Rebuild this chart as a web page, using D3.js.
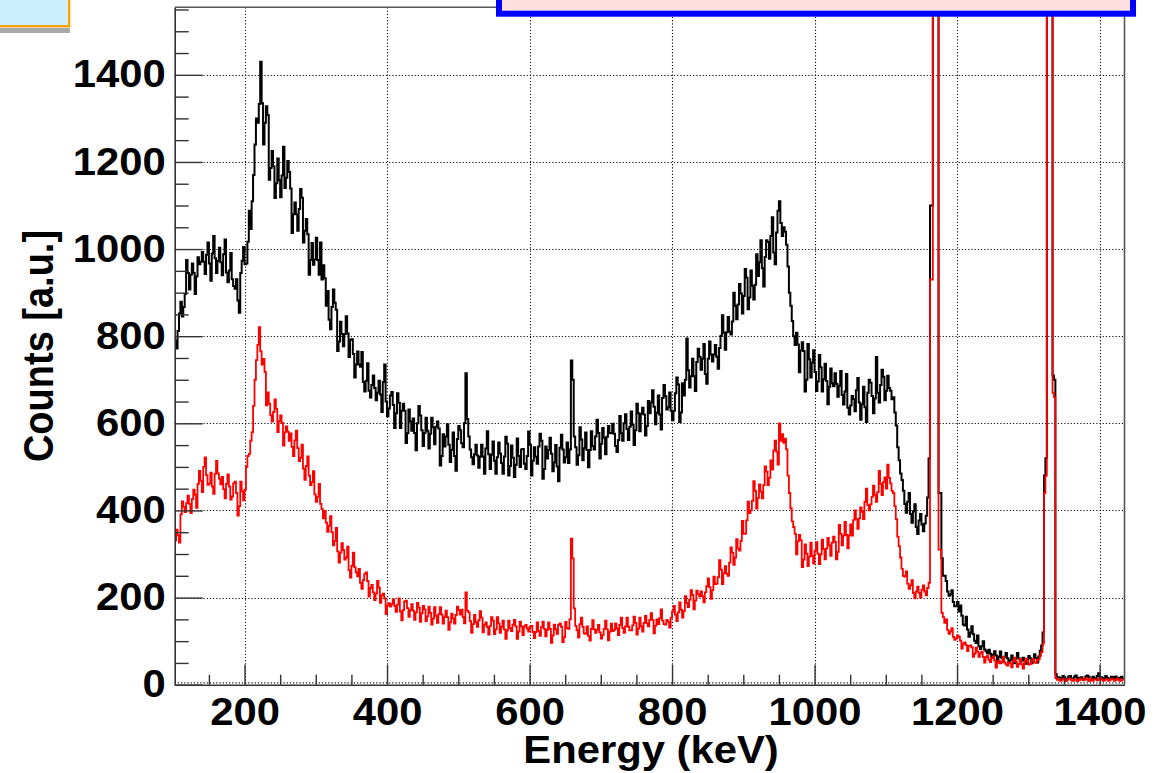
<!DOCTYPE html>
<html><head><meta charset="utf-8">
<script src="https://cdn.jsdelivr.net/npm/d3@7"></script>
<style>html,body{margin:0;padding:0;background:#fff;} svg{display:block;}</style>
</head><body>
<svg id="chart" width="1162" height="773"></svg>
<script>
// ---- data (histograms, 2 keV bins starting at 102 keV) ----
const binStart = 102;
const binWidth = 2;
const xDomain = [102, 1435];
const yDomain = [0, 1555];
const xTickValues = [200, 400, 600, 800, 1000, 1200, 1400];
const yTickValues = [0, 200, 400, 600, 800, 1000, 1200, 1400];
const xTitle = "Energy (keV)";
const yTitle = "Counts [a.u.]";

const blackCounts = [
  790, 772, 812, 852, 879, 845, 867, 897, 975, 945, 907, 941, 967, 945, 897, 937, 981, 965, 971, 993, 971, 943, 987, 1015, 967, 927, 990, 1030, 979, 945, 973, 1003, 970, 940, 988, 1022, 946, 924, 951, 991, 931, 915, 909, 931, 882, 854, 945, 973, 1005, 965,
  967, 1017, 1088, 1046, 1110, 1170, 1240, 1300, 1290, 1333, 1430, 1335, 1240, 1290, 1328, 1308, 1159, 1186, 1225, 1190, 1117, 1151, 1208, 1158, 1119, 1169, 1235, 1140, 1164, 1202, 1177, 1139, 1037, 1080, 1107, 1080, 1042, 1092, 1138, 1118, 1015, 1042, 1069, 1034, 941, 975, 1014, 964, 976, 1026,
  975, 941, 1015, 930, 963, 933, 870, 904, 838, 816, 867, 907, 877, 861, 766, 788, 833, 805, 777, 805, 846, 806, 752, 792, 793, 759, 705, 735, 765, 735, 730, 764, 695, 673, 698, 738, 675, 659, 688, 710, 681, 653, 670, 698, 666, 626, 695, 735, 650, 616,
  634, 664, 672, 642, 589, 623, 669, 647, 589, 629, 645, 629, 555, 577, 632, 604, 583, 611, 578, 538, 600, 640, 618, 584, 548, 578, 613, 583, 542, 576, 613, 591, 552, 592, 604, 588, 503, 525, 575, 547, 570, 598, 551, 511, 539, 579, 525, 491, 564, 594,
  584, 554, 545, 600, 715, 610, 570, 540, 522, 506, 529, 551, 526, 498, 523, 551, 524, 484, 542, 582, 529, 495, 528, 558, 514, 484, 522, 556, 531, 509, 484, 524, 569, 553, 480, 502, 549, 521, 477, 505, 565, 525, 500, 540, 541, 507, 495, 525, 581, 551,
  480, 514, 545, 523, 507, 547, 576, 560, 473, 495, 547, 519, 539, 567, 530, 490, 510, 550, 501, 467, 544, 574, 540, 510, 522, 556, 509, 540, 744, 700, 570, 545, 505, 527, 591, 563, 515, 543, 579, 539, 499, 539, 582, 548, 540, 570, 608, 578, 519, 553,
  589, 567, 529, 569, 594, 578, 577, 599, 576, 548, 534, 562, 617, 577, 560, 600, 621, 587, 562, 592, 627, 597, 550, 584, 645, 623, 582, 622, 636, 620, 572, 594, 651, 623, 648, 676, 638, 598, 624, 664, 620, 586, 658, 688, 662, 632, 637, 671, 629, 607,
  629, 669, 705, 689, 603, 625, 692, 664, 700, 795, 722, 682, 708, 748, 708, 674, 741, 771, 753, 723, 748, 782, 713, 691, 748, 788, 758, 742, 758, 780, 753, 725, 773, 801, 848, 808, 769, 809, 844, 810, 804, 834, 900, 870, 839, 873, 920, 898, 852, 892,
  954, 934, 862, 889, 951, 916, 884, 918, 988, 938, 970, 1020, 956, 914, 982, 1020, 1016, 978, 1030, 1073, 992, 965, 1038, 1088, 1110, 1060, 1030, 1050, 1040, 1010, 960, 900, 870, 835, 800, 780, 808, 781, 717, 767, 786, 766, 673, 700, 782, 747, 705, 739, 768, 718,
  674, 696, 757, 729, 673, 701, 737, 697, 644, 684, 726, 692, 685, 715, 691, 661, 686, 720, 665, 643, 673, 713, 636, 620, 641, 663, 656, 628, 676, 704, 648, 608, 644, 684, 637, 603, 670, 700, 693, 663, 623, 657, 752, 670, 648, 688, 723, 707, 653, 675,
  709, 681, 675, 655, 660, 625, 595, 545, 515, 485, 470, 445, 415, 395, 420, 440, 392, 372, 398, 414, 362, 346, 377, 392, 368, 352, 370, 388, 430, 520, 1100, 1100, 3100, 3100, 3100, 3100, 440, 440, 290, 250, 250, 238, 214, 204, 207, 217, 190, 180, 180, 190,
  168, 182, 158, 138, 136, 156, 127, 110, 119, 134, 116, 101, 96, 113, 88, 82, 88, 100, 81, 77, 73, 80, 71, 62, 69, 77, 67, 55, 64, 76, 62, 52, 64, 73, 61, 52, 56, 67, 55, 49, 61, 73, 60, 56, 55, 62, 57, 48, 58, 66,
  61, 49, 58, 70, 61, 51, 65, 78, 90, 120, 480, 520, 3100, 3100, 3100, 3100, 710, 700, 24, 17, 17, 13, 15, 20, 17, 11, 13, 19, 20, 14, 14, 18, 21, 16, 11, 16, 17, 13, 13, 19, 21, 18, 10, 13, 18, 14, 15, 20, 26, 17,
  17, 13, 14, 20, 16, 12, 14, 18, 17, 13, 19, 15, 12, 16, 18, 14
];

const redCounts = [
  331, 356, 343, 326, 391, 421, 408, 396, 417, 434, 415, 394, 426, 448, 436, 406, 461, 491, 468, 442, 500, 522, 481, 459, 462, 487, 455, 438, 484, 514, 485, 473, 460, 477, 449, 428, 461, 483, 455, 425, 432, 462, 466, 440, 388, 410, 466, 444, 423, 448,
  500, 525, 530, 560, 580, 640, 700, 745, 780, 821, 765, 735, 748, 718, 641, 671, 645, 619, 604, 626, 655, 633, 580, 605, 618, 601, 549, 579, 593, 581, 560, 577, 546, 525, 561, 583, 543, 513, 521, 551, 496, 470, 502, 524, 480, 458, 465, 490, 437, 420,
  431, 461, 415, 403, 382, 399, 372, 351, 365, 387, 350, 320, 330, 360, 306, 280, 303, 325, 309, 287, 292, 317, 263, 246, 273, 303, 270, 258, 249, 266, 234, 220, 240, 254, 258, 238, 202, 222, 229, 212, 194, 209, 238, 223, 188, 205, 209, 198, 162, 182,
  187, 179, 185, 196, 181, 167, 184, 198, 168, 148, 171, 191, 193, 176, 156, 171, 185, 170, 149, 166, 188, 177, 144, 164, 181, 173, 146, 157, 179, 165, 138, 152, 178, 158, 142, 162, 178, 161, 140, 155, 170, 155, 126, 143, 163, 152, 140, 160, 179, 171,
  161, 172, 155, 141, 212, 170, 166, 146, 119, 139, 160, 143, 133, 148, 169, 154, 120, 137, 143, 132, 115, 135, 155, 147, 116, 127, 155, 141, 119, 133, 147, 127, 105, 125, 147, 130, 123, 138, 149, 134, 105, 122, 145, 134, 114, 134, 137, 129, 122, 133,
  135, 121, 107, 121, 143, 123, 112, 132, 145, 128, 111, 126, 143, 128, 96, 113, 138, 127, 117, 137, 141, 133, 98, 109, 144, 130, 128, 150, 335, 290, 175, 135, 125, 108, 139, 154, 133, 118, 117, 134, 112, 101, 128, 148, 127, 119, 126, 137, 120, 106,
  114, 128, 147, 127, 102, 122, 140, 123, 126, 141, 129, 114, 137, 154, 130, 119, 134, 154, 133, 125, 125, 136, 156, 142, 115, 129, 154, 134, 122, 142, 158, 141, 134, 149, 164, 149, 118, 135, 150, 139, 153, 173, 147, 139, 138, 149, 145, 131, 154, 168,
  181, 161, 146, 166, 189, 172, 154, 169, 203, 188, 178, 195, 217, 206, 173, 193, 216, 208, 203, 214, 203, 189, 212, 226, 244, 224, 197, 217, 248, 231, 232, 247, 286, 264, 231, 256, 272, 255, 250, 280, 315, 303, 275, 292, 334, 313, 308, 330, 376, 346,
  347, 377, 420, 394, 400, 422, 467, 445, 404, 429, 460, 443, 428, 458, 501, 489, 458, 475, 515, 494, 538, 560, 535, 505, 600, 560, 575, 555, 565, 540, 480, 440, 405, 375, 362, 346, 299, 329, 344, 332, 270, 287, 322, 301, 272, 294, 326, 296, 278, 308,
  327, 301, 277, 299, 333, 311, 288, 313, 337, 320, 296, 326, 340, 328, 288, 305, 367, 346, 320, 342, 374, 344, 313, 343, 368, 342, 378, 400, 380, 358, 382, 407, 397, 380, 420, 450, 412, 400, 414, 431, 457, 436, 420, 442, 491, 461, 435, 465, 476, 450,
  505, 475, 462, 445, 440, 410, 380, 340, 318, 292, 266, 250, 248, 260, 232, 220, 228, 240, 210, 198, 214, 225, 211, 200, 218, 228, 214, 205, 222, 234, 930, 930, 3300, 3300, 3300, 3300, 310, 310, 165, 155, 142, 150, 126, 117, 122, 130, 110, 103, 106, 113,
  110, 101, 83, 94, 97, 91, 77, 89, 90, 86, 64, 71, 85, 76, 64, 72, 76, 64, 51, 63, 67, 57, 52, 61, 65, 56, 39, 50, 55, 49, 52, 64, 51, 47, 44, 51, 49, 40, 54, 62, 53, 41, 48, 60, 47, 37, 51, 60, 55, 46,
  48, 56, 59, 51, 50, 57, 58, 66, 75, 95, 440, 480, 3400, 3400, 3400, 3400, 670, 660, 15, 11, 13, 9, 10, 14, 12, 8, 11, 14, 14, 10, 9, 12, 11, 8, 10, 14, 13, 10, 11, 15, 12, 8, 14, 11, 9, 12, 13, 10, 12, 15,
  13, 9, 10, 13, 12, 9, 11, 14, 13, 9, 11, 14, 12, 9, 10, 13
];

// ---- layout ----
const plot = {left: 174.7, right: 1124.5, top: 7.3, bottom: 684.7};
const FONT = "'Liberation Sans', Arial, Helvetica, sans-serif";
const svg = d3.select("#chart");
svg.append("rect").attr("width", 1162).attr("height", 773).attr("fill", "#fff");

const x = d3.scaleLinear().domain(xDomain).range([plot.left, plot.right]);
const y = d3.scaleLinear().domain(yDomain).range([plot.bottom, plot.top]);

svg.append("defs").append("clipPath").attr("id", "plotclip")
  .append("rect").attr("x", plot.left).attr("y", plot.top)
  .attr("width", plot.right - plot.left).attr("height", plot.bottom - plot.top);

// grid
const grid = svg.append("g").attr("stroke", "#111").attr("stroke-width", 1.1)
  .attr("stroke-dasharray", "1.2,2").attr("fill", "none");
xTickValues.forEach(v => grid.append("line")
  .attr("x1", Math.round(x(v)) + 0.5).attr("x2", Math.round(x(v)) + 0.5)
  .attr("y1", plot.top).attr("y2", plot.bottom));
yTickValues.forEach(v => {
  const yy = v === 0 ? y(v) - 1.8 : Math.round(y(v)) + 0.5;
  grid.append("line").attr("x1", plot.left).attr("x2", plot.right)
    .attr("y1", yy).attr("y2", yy);
});

// histograms
function histPoints(counts) {
  const pts = counts.map((c, i) => [binStart + i * binWidth, c]);
  pts.push([binStart + counts.length * binWidth, counts[counts.length - 1]]);
  return pts;
}
const line = d3.line().x(d => x(d[0])).y(d => y(d[1])).curve(d3.curveStepAfter);
const hg = svg.append("g").attr("clip-path", "url(#plotclip)");
hg.append("path").datum(histPoints(blackCounts)).attr("d", line)
  .attr("fill", "none").attr("stroke", "#000").attr("stroke-width", 2.0);
hg.append("path").datum(histPoints(redCounts)).attr("d", line)
  .attr("fill", "none").attr("stroke", "#ff0000").attr("stroke-width", 1.8);

// axes
const xMinor = d3.range(150, 1435, 50).filter(v => v % 200 !== 0);
const yMinor = d3.range(0, 1556, 50).filter(v => v % 200 !== 0);
const fmt = d3.format("d");

function styleAxis(g) {
  g.selectAll("path").attr("stroke", "#333").attr("stroke-width", 1.6);
  g.selectAll("line").attr("stroke", "#333").attr("stroke-width", 1.4);
}
const gxMin = svg.append("g").attr("transform", `translate(0,${plot.bottom})`)
  .call(d3.axisBottom(x).tickValues(xMinor).tickSize(-10).tickSizeOuter(0).tickFormat(""));
const gx = svg.append("g").attr("transform", `translate(0,${plot.bottom})`)
  .call(d3.axisBottom(x).tickValues(xTickValues).tickSize(-20).tickSizeOuter(0)
    .tickPadding(13).tickFormat(fmt));
const gyMin = svg.append("g").attr("transform", `translate(${plot.left},0)`)
  .call(d3.axisLeft(y).tickValues(yMinor).tickSize(-14).tickSizeOuter(0).tickFormat(""));
const gy = svg.append("g").attr("transform", `translate(${plot.left},0)`)
  .call(d3.axisLeft(y).tickValues(yTickValues).tickSize(-28).tickSizeOuter(0)
    .tickPadding(8.2).tickFormat(fmt));
[gxMin, gx, gyMin, gy].forEach(styleAxis);
[gxMin, gyMin].forEach(g => g.select(".domain").remove());
[gx, gy].forEach(g => g.selectAll("text")
  .attr("font-family", FONT).attr("font-weight", "bold").attr("font-size", 38)
  .attr("fill", "#000").attr("transform", "scale(1.1,1)"));

// frame (top and right)
svg.append("path")
  .attr("d", `M${plot.left},${plot.top}H${plot.right}V${plot.bottom}`)
  .attr("fill", "none").attr("stroke", "#555").attr("stroke-width", 1.6);

// axis titles
svg.append("text").attr("transform", `translate(651,763) scale(1.1,1)`)
  .attr("text-anchor", "middle").attr("font-family", FONT).attr("font-weight", "bold")
  .attr("font-size", 38).attr("fill", "#000").text(xTitle);
svg.append("text").attr("transform", `translate(53,346) scale(1.1,1) rotate(-90)`)
  .attr("text-anchor", "middle").attr("font-family", FONT).attr("font-weight", "bold")
  .attr("font-size", 38).attr("fill", "#000").text(yTitle);

// top-left (cut) box with shadow
svg.append("rect").attr("x", 0).attr("y", 28).attr("width", 70).attr("height", 5)
  .attr("fill", "#a9a9a9");
svg.append("rect").attr("x", -5).attr("y", -5).attr("width", 74.2).attr("height", 31.2)
  .attr("fill", "#cdeeff").attr("stroke", "#ffa200").attr("stroke-width", 2.4);

// top (cut) legend box
svg.append("rect").attr("x", 499).attr("y", -10).attr("width", 634).attr("height", 23.7)
  .attr("fill", "#ffdfdf").attr("stroke", "#0000ff").attr("stroke-width", 6);
</script>
</body></html>
